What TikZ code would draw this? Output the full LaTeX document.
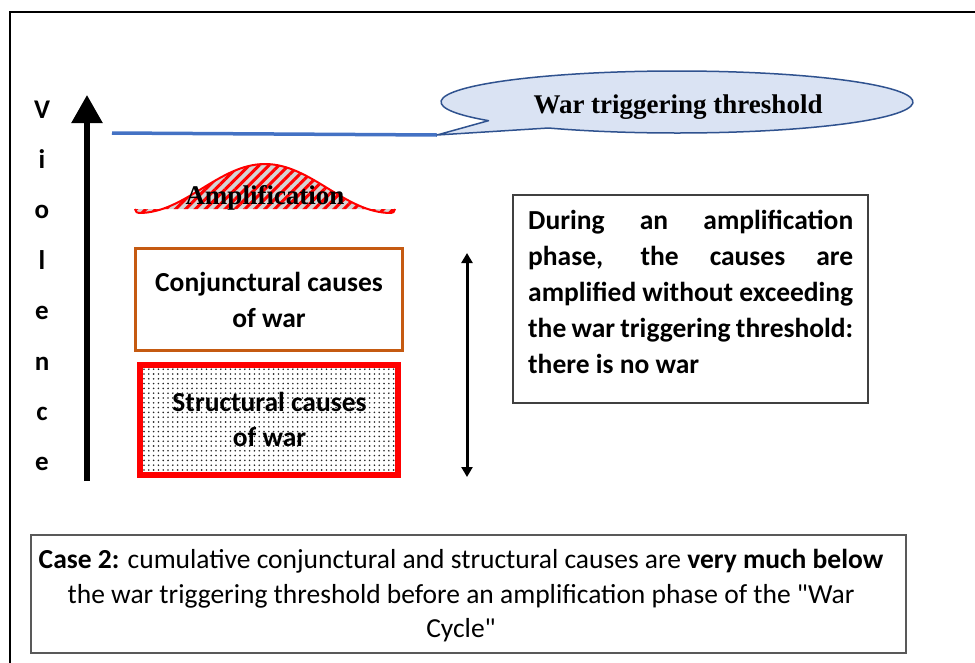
\documentclass[tikz,border=0pt]{standalone}
\usepackage{fontspec}
\setmainfont{Carlito}
\newfontfamily\timesfont{Liberation Serif}
\usetikzlibrary{arrows.meta,patterns.meta,calc}

\definecolor{threshblue}{HTML}{4472C4}
\definecolor{calloutfill}{HTML}{DAE3F3}
\definecolor{calloutline}{HTML}{2F528F}
\definecolor{conjorange}{HTML}{C55A11}
\definecolor{boxgray}{HTML}{404040}
\definecolor{ampgrey}{HTML}{D4D4D4}

% justified line of fixed width, and a straight double quote glyph
\newcommand{\jline}[1]{\makebox[325pt][s]{#1}}
\newcommand{\dq}{\XeTeXglyph\XeTeXcharglyph"22\relax}

\tikzset{
  boldtext/.style={font=\fontsize{27.5}{36}\selectfont\bfseries, align=center, inner sep=0pt},
  serifbold/.style={font=\fontsize{27}{32}\selectfont\timesfont\bfseries, inner sep=0pt},
  axisletter/.style={font=\fontsize{27}{30}\selectfont\bfseries, inner sep=0pt, anchor=base},
  conjbox/.style={draw=conjorange, line width=3pt, rectangle, inner sep=0pt},
  structbox/.style={draw=red, line width=6pt, rectangle, inner sep=0pt,
    pattern={Dots[radius=0.9pt, distance=4.8pt]}, pattern color=black!85},
  thinbox/.style={draw=boxgray, line width=1.1pt, rectangle, inner sep=0pt},
  violencearrow/.style={line width=5.5pt, -{Triangle[length=28pt,width=30pt]}},
  rangearrow/.style={line width=3pt,
    {Triangle[length=10pt,width=11pt]}-{Triangle[length=10pt,width=11pt]}},
}

\begin{document}
\begin{tikzpicture}[x=1pt,y=-1pt]
\useasboundingbox (0,0) rectangle (975,662);

% open frame along the left and top edges
\coordinate (frameB) at (10,680);
\coordinate (frameC) at (10,12);
\coordinate (frameR) at (990,12);
\draw[line width=2.3pt] (frameB) -- (frameC) -- (frameR);

% vertical violence axis
\coordinate (vbot) at (87,481);
\coordinate (vtop) at (87,95);
\draw[violencearrow] (vbot) -- (vtop);
\foreach \ch [count=\i from 0] in {V,i,o,l,e,n,c,e}
  \node[axisletter] (v\i) at (42,{118+50.4*\i}) {\ch};

% threshold callout
\coordinate (cc) at (677,102);
\coordinate (ctip) at (437,135);
\coordinate (thL) at (112,133);
\draw[threshblue, line width=3.5pt] (thL) -- (ctip);
\draw[calloutline, fill=calloutfill, line width=1.5pt, line join=round]
  ($(cc)+(123:236 and 31)$) -- (ctip) -- ($(cc)+(143:236 and 31)$)
  arc[start angle=143, end angle=483, x radius=236, y radius=31] -- cycle;
\node[serifbold, anchor=base] (thtext) at (678,113) {War triggering threshold};

% amplification bump: raised-cosine profile with small hooks at both feet
\def\bump{(135,209) .. controls (135.5,212) and (137,213) .. (139,213)
  .. controls (185,213) and (219,164) .. (265,164)
  .. controls (311,164) and (345,213) .. (391,213)
  .. controls (393,213) and (394.5,212) .. (395,209)}
\path[preaction={fill=ampgrey}, pattern={Lines[angle=45,distance=7pt,line width=3pt]},
  pattern color=red] \bump -- cycle;
\draw[red, line width=2pt, line join=round] \bump;
\node[serifbold, anchor=base] (amp) at (265,204) {Amplification};

% causes stacked under the threshold
\node[conjbox, minimum width=267pt, minimum height=102pt] (conj) at (269,299.5) {};
\node[boldtext] (conjtext) at (269,300) {Conjunctural causes\\of war};
\node[structbox, minimum width=258pt, minimum height=110pt] (struct) at (269,420) {};
\node[boldtext, font=\fontsize{27.5}{35}\selectfont\bfseries] (structtext) at (269.5,419) {Structural causes\\of war};

% range of the causes
\coordinate (rtop) at (467,253);
\coordinate (rbot) at (467,477);
\draw[rangearrow] (rbot) -- (rtop);

% explanatory note
\node[thinbox, minimum width=355pt, minimum height=208pt] (note) at (690.5,299) {};
\node[boldtext, align=left, anchor=north west] (notetext) at (528,210)
  {\jline{During an amplification}\\
   \jline{phase, the causes are}\\
   \jline{amplified without exceeding}\\
   \jline{the war triggering threshold:}\\
   there is no war};

% caption
\node[thinbox, draw=black!65, minimum width=875pt, minimum height=118pt] (caption) at (468.5,594) {};
\node[font=\fontsize{27.5}{34.5}\selectfont, align=center, inner sep=0pt] (captext) at (461,596)
  {\textbf{Case 2:} cumulative conjunctural and structural causes are \textbf{very much below}\\
   the war triggering threshold before an amplification phase of the \dq War\\
   Cycle\dq};
\end{tikzpicture}
\end{document}
